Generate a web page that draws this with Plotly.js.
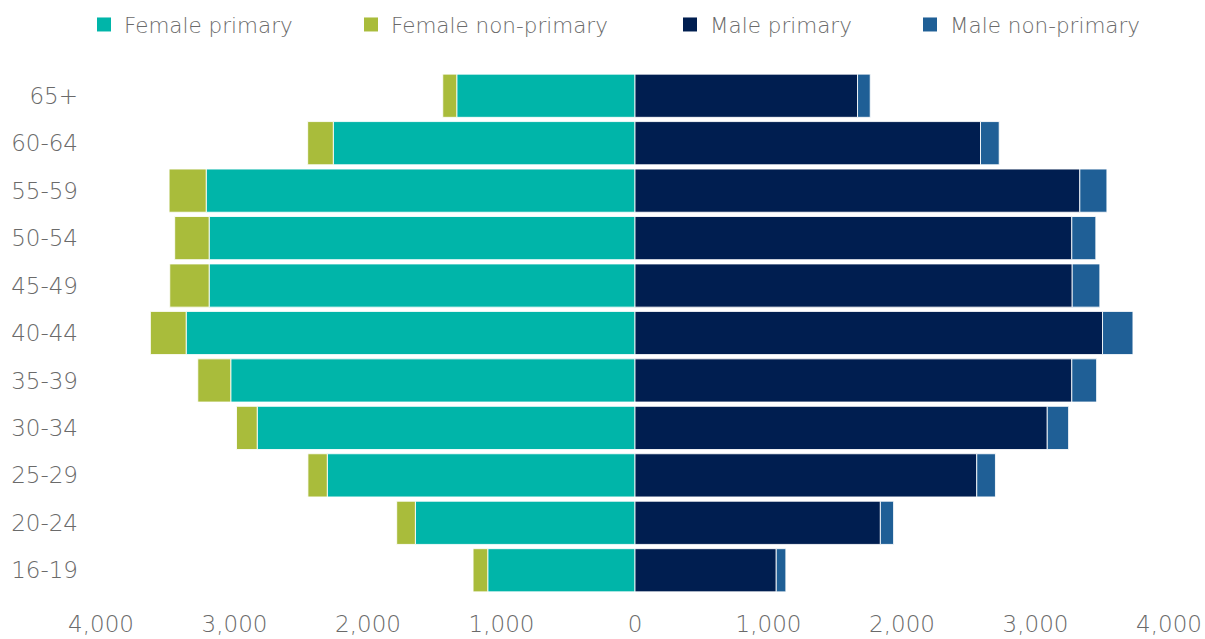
<!DOCTYPE html>
<html>
<head>
<meta charset="utf-8">
<script src="https://cdn.plot.ly/plotly-3.0.1.min.js"></script>
<style>html,body{margin:0;padding:0;background:#fff;}#chart{width:1205px;height:639px;}</style>
</head>
<body>
<div id="chart"></div>
<script>
const ageGroups = ["16-19","20-24","25-29","30-34","35-39","40-44","45-49","50-54","55-59","60-64","65+"];
const femalePrimary    = [1103,1645,2305,2830,3028,3362,3190,3190,3212,2260,1335];
const femaleNonPrimary = [110, 140, 145, 155, 247, 268, 295, 258, 278, 192, 105];
const malePrimary      = [1058,1838,2560,3088,3272,3502,3275,3272,3332,2588,1667];
const maleNonPrimary   = [72,  99,  140, 160, 186, 228, 207, 180, 203, 140, 95];
const xTickVals   = [-4000,-3000,-2000,-1000,0,1000,2000,3000,4000];
const xTickLabels = ["4,000","3,000","2,000","1,000","0","1,000","2,000","3,000","4,000"];

const FONT = "DejaVu Sans, sans-serif";
const TICKTXT = {family: FONT, size: 23, color: "#6a6a6a", weight: 200};
const LEGTXT = {family: FONT, size: 21.5, color: "#6a6a6a", weight: 200};
const lineStyle = {color: "rgba(255,255,255,0.85)", width: 1};

const series = [
  {name: "Female primary", x: femalePrimary.map(v => -v), color: "#00B5A9", legend: "legend"},
  {name: "Female non-primary", x: femaleNonPrimary.map(v => -v), color: "#A9BC3B", legend: "legend2"},
  {name: "Male primary", x: malePrimary, color: "#001E50", legend: "legend3"},
  {name: "Male non-primary", x: maleNonPrimary, color: "#1F5F96", legend: "legend4"}
];

const bars = series.map(s => ({
  type: "bar", orientation: "h", name: s.name, x: s.x, y: ageGroups,
  marker: {color: s.color, line: lineStyle},
  showlegend: false, hoverinfo: "skip"
}));
const legendKeys = series.map(s => ({
  type: "scatter", mode: "markers", name: s.name, x: [null], y: [null],
  marker: {symbol: "square", size: 14, color: s.color},
  legend: s.legend, showlegend: true, hoverinfo: "skip"
}));

function leg(xpx) {
  return {
    orientation: "h", xref: "container", yref: "container",
    x: xpx / 1205, xanchor: "left", y: 1 - 4 / 639, yanchor: "top",
    itemwidth: 30,
    font: LEGTXT, bgcolor: "rgba(0,0,0,0)", borderwidth: 0
  };
}

const layout = {
  width: 1205, height: 639,
  margin: {l: 101, r: 36, t: 72, b: 45, pad: 0},
  paper_bgcolor: "#fff", plot_bgcolor: "#fff",
  barmode: "relative", bargap: 0.09,
  showlegend: true,
  legend: leg(84), legend2: leg(351), legend3: leg(670), legend4: leg(910),
  xaxis: {
    range: [-4000, 4000], tickvals: xTickVals, ticktext: xTickLabels,
    showgrid: false, zeroline: false, showline: false, ticks: "",
    tickfont: TICKTXT, ticklabelstandoff: 14, fixedrange: true
  },
  yaxis: {
    type: "category", showgrid: false, zeroline: false, showline: false, ticks: "",
    tickfont: TICKTXT, ticklabelstandoff: 22, fixedrange: true
  },
  font: {family: FONT}
};

Plotly.newPlot("chart", bars.concat(legendKeys), layout, {displayModeBar: false, staticPlot: true});
</script>
</body>
</html>
